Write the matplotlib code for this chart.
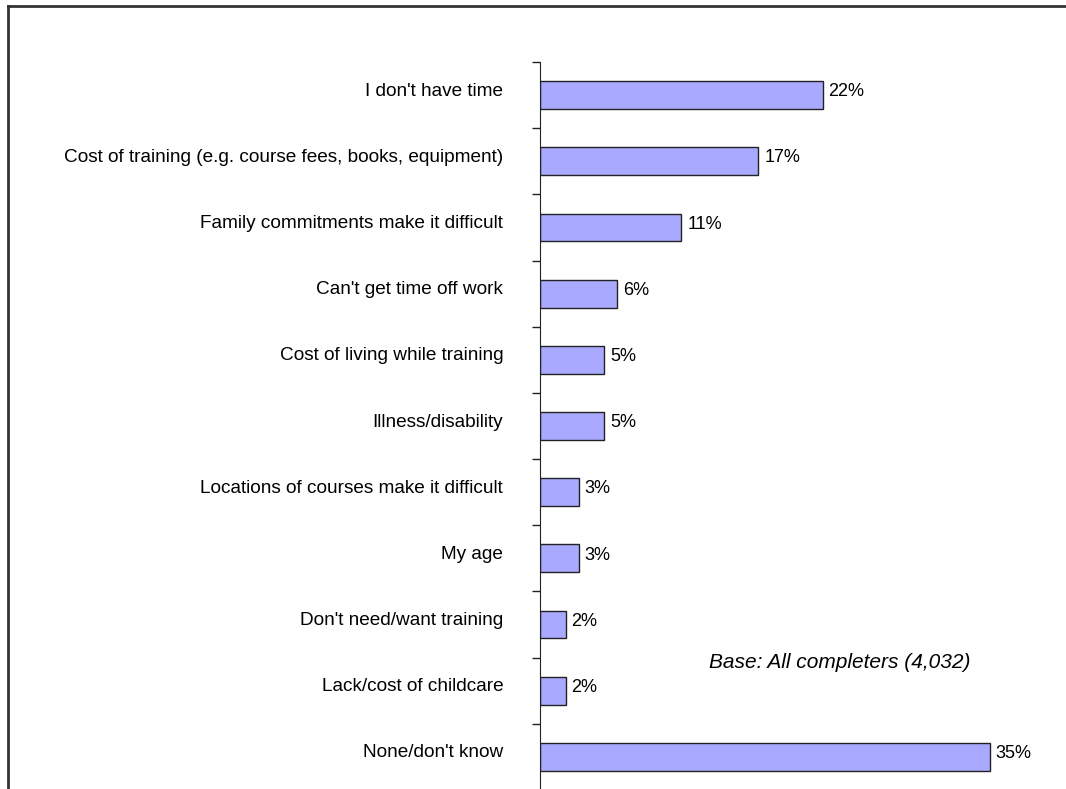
import matplotlib
matplotlib.use('Agg')
import matplotlib.pyplot as plt
import matplotlib.transforms as mtransforms
from matplotlib.lines import Line2D
from matplotlib.ticker import FixedLocator

plt.rcParams['font.family'] = ['Liberation Sans', 'DejaVu Sans']

reasons = ["I don't have time",
           "Cost of training (e.g. course fees, books, equipment)",
           "Family commitments make it difficult",
           "Can't get time off work",
           "Cost of living while training",
           "Illness/disability",
           "Locations of courses make it difficult",
           "My age",
           "Don't need/want training",
           "Lack/cost of childcare",
           "None/don't know"]
percents = [22, 17, 11, 6, 5, 5, 3, 3, 2, 2, 35]
base_note = "Base: All completers (4,032)"

fig = plt.figure(figsize=(10.66, 7.89), dpi=100)
ax = fig.add_axes([540 / 1066, -0.0013, 514 / 1066, 1 - 62 / 789 + 0.0013])

pos = list(range(len(reasons)))
ax.barh(pos, percents, height=0.42, color='#A9A9FF', edgecolor='#222222', linewidth=1)
ax.set_ylim(len(reasons) - 0.5, -0.5)
ax.set_xlim(0, 40)

for p, v in zip(pos, percents):
    ax.text(v + 0.45, p - 0.05, f'{v}%', va='center', ha='left', fontsize=13)

ax.set_yticks(pos)
ax.set_yticklabels(reasons, fontsize=13.7)
ax.tick_params(axis='y', which='major', length=0, pad=26.5)
ax.yaxis.set_minor_locator(FixedLocator([i - 0.5 for i in range(len(reasons) + 1)]))
ax.tick_params(axis='y', which='minor', length=5.5, width=1, color='#222222', direction='out')
ax.set_xticks([])
for s in ['top', 'right', 'bottom']:
    ax.spines[s].set_visible(False)
ax.spines['left'].set_color('#222222')

# labels sit a little above the bar centre
offset = mtransforms.ScaledTranslation(0, 6 / 100, fig.dpi_scale_trans)
for lbl in ax.get_yticklabels():
    lbl.set_transform(lbl.get_transform() + offset)

fig.text(709 / 1066, 1 - 662 / 789, base_note, fontsize=15, style='italic', va='center')

# outer frame
fig.add_artist(Line2D([7.5 / 1066, 1.01], [1 - 5.5 / 789, 1 - 5.5 / 789], color='#333333', lw=2,
                      transform=fig.transFigure))
fig.add_artist(Line2D([7.5 / 1066, 7.5 / 1066], [-0.01, 1 - 5.5 / 789], color='#333333', lw=2,
                      transform=fig.transFigure))

fig.savefig('out.png', dpi=100)
